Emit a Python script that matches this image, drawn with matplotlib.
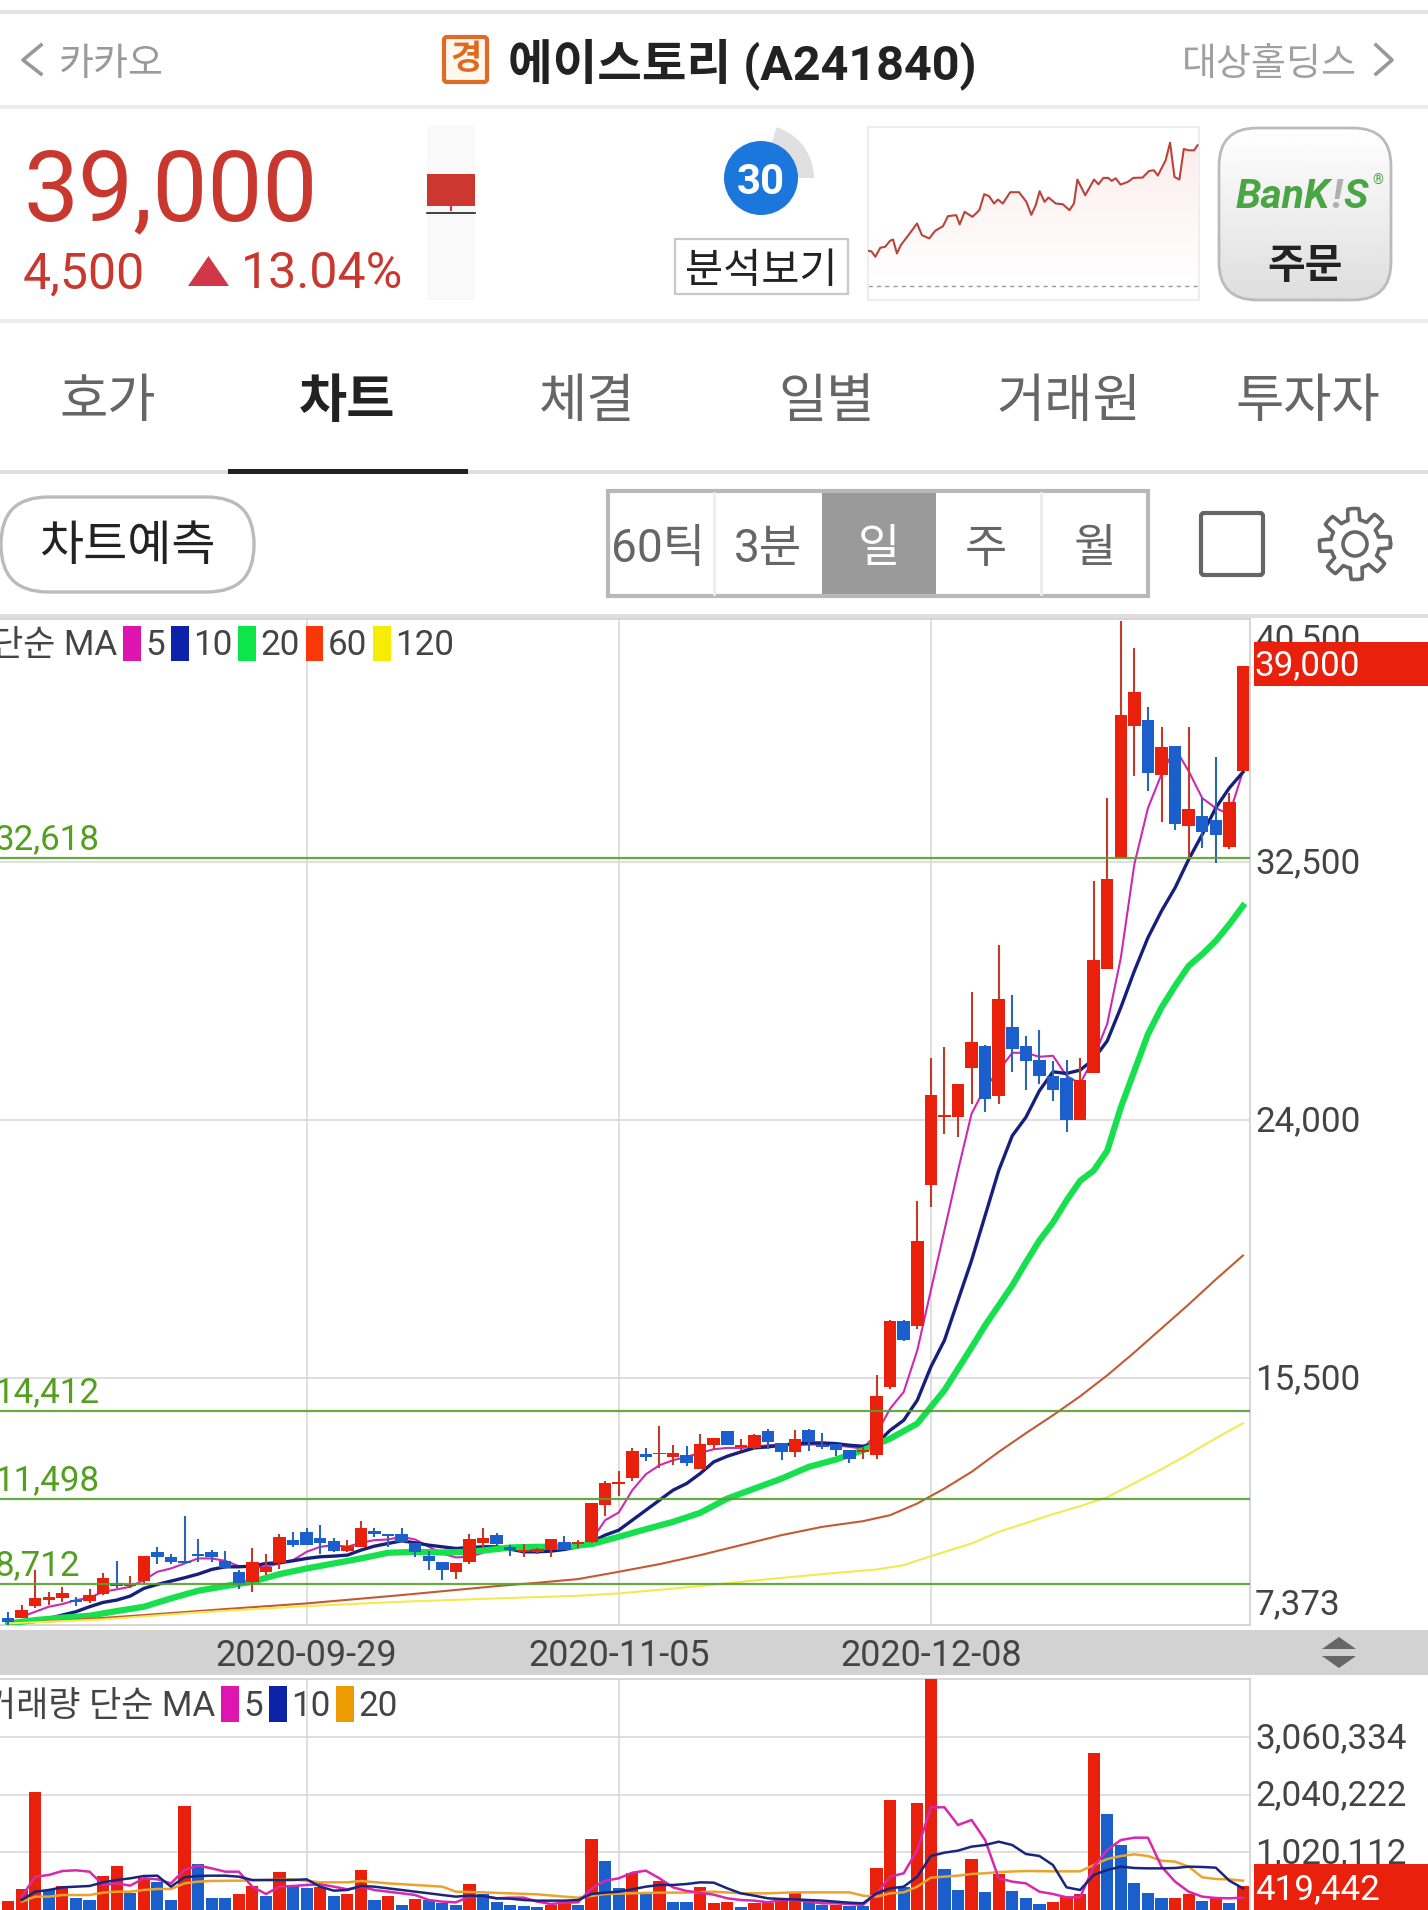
import numpy as np
import matplotlib
matplotlib.use("Agg")
import matplotlib.pyplot as plt
from matplotlib.patches import Rectangle, FancyBboxPatch, Wedge, Circle, Polygon

plt.rcParams['font.family'] = ['Roboto', 'Noto Sans CJK KR', 'DejaVu Sans']

# ---------------- data ----------------
candle_colors = ("brrrr brrbr rbbbb bbbrr rbbbb rrbbb bbbrr rbbrr rbrrr rrbrr "
                 "brrbr rbbrb bbbrr rbrrr rrbrb bbbbr rrrrb rbrbb rr").replace(" ", "")
highs = [7794,8013,9165,8452,8594,8287,8529,9055,9472,8967,9636,9933,9691,10942,10196,9823,9790,9165,9878,9691,10349,10426,10536,10646,10207,10152,10788,10536,10339,10536,10042,9801,9439,9384,10349,10536,10393,9987,10009,9878,10185,10295,10152,11381,12094,12434,13191,13191,13904,13301,13246,13641,13531,13739,13498,13641,13827,13366,13794,13827,13684,13333,13114,13224,15582,17400,17400,21340,26021,26383,25176,28215,26460,29762,28116,26767,26965,25944,25966,26021,31865,34608,40444,39544,37603,36944,36308,36944,34608,35957,34772,38963]
body_tops = [7574,7848,8232,8265,8397,8177,8342,8890,8726,8693,9636,9768,9604,9461,9691,9757,9472,9110,9439,9274,10240,10152,10426,10207,10130,9966,10536,10459,10339,10371,10042,9626,9439,9384,10185,10229,10317,9933,9823,9856,10185,10075,10075,11381,12039,12072,13081,12982,13037,13037,12949,13333,13531,13739,13290,13630,13739,13366,13476,13772,13279,13333,13114,13114,14891,17359,17359,20024,24825,24167,25176,26570,26416,27974,27074,26416,25966,25451,25363,25319,29268,31920,37350,38096,37186,36286,36308,34246,34004,33862,34465,38963]
body_bots = [7464,7596,7980,8177,8254,8123,8144,8364,8638,8638,8803,9604,9439,9406,9626,9604,9219,8671,8781,9110,9384,9987,9987,10042,9801,9801,9933,10339,10284,10075,9768,9472,9165,9088,9439,10042,10009,9823,9746,9768,9823,9823,10009,10075,11304,12017,12203,12895,12982,12895,12697,12511,13301,13301,13213,13191,13388,13059,13059,13388,13224,13114,12840,13059,12949,15198,16734,17207,21866,24101,24079,25692,24683,24792,26328,25944,25451,24990,23992,23992,25538,28983,32633,36966,35430,35376,33730,33675,33478,33379,32984,35485]
lows = [7355,7574,7903,8013,8123,7980,8068,8342,8561,8561,8671,9362,9362,9384,9417,9439,9197,8529,8452,9000,9197,9911,9987,9691,9768,9768,9933,10240,9933,10075,9604,9165,8836,8868,9362,9933,9987,9637,9604,9691,9604,9823,9878,10042,10953,11600,12105,12752,12543,12642,12598,12511,13147,13301,13114,13169,13169,12785,12895,13081,13147,12927,12697,12840,12840,15144,16700,17100,21140,23531,23421,24518,24244,24518,25582,24979,25176,24628,23586,23992,25538,28983,32633,35321,34827,33818,33533,32578,32962,32468,32929,35485]

ma5 = [7629,7793,7958,8046,8177,8254,8452,8529,8616,8836,9110,9220,9384,9549,9549,9472,9296,9253,9274,9384,9494,9768,9933,9987,9933,10064,10152,10174,10262,10174,9933,9713,9582,9604,9735,9878,9878,9768,9768,9823,9856,9955,10152,10810,11063,11798,12324,12620,12785,12895,13026,13147,13191,13191,13224,13279,13301,13279,13301,13301,13279,13224,13169,13663,14485,15034,16405,18379,20353,22327,24202,25057,25617,26209,26209,26077,26110,25452,25189,26044,27163,29335,32427,34270,35387,36243,35487,34598,34270,34060,35485]
ma10 = [7574,7684,7794,7958,8101,8177,8309,8561,8693,8803,8912,9033,9187,9274,9274,9296,9384,9406,9472,9549,9604,9626,9658,9823,9955,10042,10130,10064,9987,9933,9878,9911,9933,9933,9856,9768,9768,9790,9845,9933,10097,10317,10481,10810,11139,11469,11798,12017,12346,12730,12916,13059,13191,13224,13279,13333,13355,13355,13333,13279,13246,13333,13772,14101,14760,15857,16734,18050,19366,20846,22327,23476,24080,24957,25582,25527,25637,25999,26602,27700,28906,30003,30881,31646,32578,33401,34279,34937,35453]
ma20_days = [0,2,4,6,8,10,12,14,16,18,20,22,24,26,28,30,32,34,36,37,39,41,43,45,47,49,51,53,55,57,59,61,63,65,67,69,71,72,73,74,75,76,77,78,79,80,81,82,83,84,85,86,87,88,89,90,91]
ma20 = [7409,7519,7596,7662,7815,7958,8233,8485,8638,8781,9033,9220,9384,9549,9735,9768,9746,9768,9856,9911,9933,9933,10021,10262,10514,10755,11052,11523,11852,12181,12566,12807,13114,13498,13992,15089,16500,17227,17885,18543,19300,20024,20616,21340,21990,22327,22982,24408,25615,26822,27700,28413,29071,29455,29894,30442,31045]
ma60_days = [0,4,10,16,22,29,36,39,42,45,48,51,54,57,60,63,65,67,69,71,73,75,77,79,81,83,85,87,89,91]
ma60 = [7409,7497,7684,7881,8068,8342,8638,8748,8869,9110,9362,9658,9987,10317,10591,10777,10975,11359,11852,12401,13059,13674,14266,14891,15582,16339,17128,17918,18741,19530]
ma120_days = [0,7,14,22,29,36,42,45,51,54,60,64,66,68,71,73,75,77,79,81,83,85,87,89,91]
ma120 = [7409,7541,7772,7980,8123,8233,8320,8397,8638,8781,9033,9187,9329,9625,10042,10426,10713,11009,11272,11568,12029,12490,12983,13510,14003]

level_prices = [32618, 14412, 11498, 8712]
level_labels = ['32,618', '14,412', '11,498', '8,712']
price_ticks = [40500, 32500, 24000, 15500, 7373]
price_tick_labels = ['40,500', '32,500', '24,000', '15,500', '7,373']
date_ticks = [22, 45, 68]
date_labels = ['2020-09-29', '2020-11-05', '2020-12-08']

volume_colors = ("rrrbr bbrrb rbbrb bbrrb rbbrb rrbrb rbbbr bbbbb rrbrb brbrb "
                 "brrrb rrrrb brbbr rbrrb brbrb bbrrr rbbbb brrbr br").replace(" ", "")
volume = [159700,372600,2087600,354800,431700,218800,177400,609100,780600,307500,561800,502700,177400,1851100,810200,207000,207000,283900,431700,248400,668300,443600,384400,414000,248400,283900,709700,177400,248400,88700,189200,177400,118300,88700,461300,283900,136000,82800,71000,53200,88700,118300,88700,1253800,869400,396200,650500,283900,520400,136000,136000,402200,118300,136000,53200,130100,130100,165600,295700,136000,82800,88700,76900,71000,751100,1951600,414000,1892500,4092500,727400,354800,904800,313400,638700,343000,207000,112400,147900,236600,283900,2779600,1703200,1153200,473100,295700,207000,207000,278000,159700,218800,130100,419442]
vol_ma5 = [237,591,621,692,704,680,444,473,432,562,544,473,710,787,739,680,680,414,284,414,426,444,455,414,367,414,355,325,296,266,177,148,136,237,248,207,219,219,148,106,130,136,384,520,562,662,698,562,402,337,308,272,207,177,166,136,177,177,148,118,118,106,89,296,591,651,1065,1822,1822,1508,1597,1242,562,503,473,325,284,225,225,769,1065,1242,1283,1283,769,503,325,237,213,207,219]
vol_ma10 = [177,325,355,402,414,426,491,532,562,603,609,414,580,603,609,609,591,532,532,532,532,544,414,343,355,426,414,384,355,325,296,266,237,254,248,207,201,177,166,166,166,177,284,308,325,367,414,444,444,461,491,485,384,296,254,207,195,189,177,166,148,130,118,296,384,414,591,958,1017,1053,1124,1153,1212,1153,994,958,798,402,355,621,710,769,745,739,739,745,769,763,751,520,384]
vol_ma20_days = [1,2,3,4,5,6,7,8,9,10,11,12,13,14,15,17,19,21,23,25,26,28,30,32,33,35,37,39,41,42,43,44,46,48,50,52,54,56,58,60,62,63,64,65,66,67,68,69,70,71,72,73,75,77,79,80,81,82,83,84,85,86,87,88,89,90,91]
vol_ma20 = [148,237,237,266,266,266,308,325,325,355,373,373,473,503,515,520,532,544,491,491,515,473,444,414,325,313,296,278,237,219,248,284,296,308,308,325,296,296,313,313,313,254,237,296,313,414,574,591,609,639,651,674,692,686,686,798,905,958,988,958,875,858,769,580,550,544,520]
vol_ticks = [1020112, 2040222, 3060334]
vol_tick_labels = ['1,020,112', '2,040,222', '3,060,334']

spark_pos = [425,432,440,450,460,470,476,484,492,510,525,535,550,562,578,588,605,612,622,638,652,662,672,682,690,700,715,733,748,758,767,775,785,793,808,822,836,845,852,868,886,895,905,915,922,930,940,955,966,985,998,1008,1016,1032,1041,1050,1060,1069,1078,1090,1097]
spark_val = [107,105,89,116,119,137,141,99,124,159,189,154,144,167,181,211,214,186,224,209,229,277,271,249,261,249,283,283,254,215,244,286,254,267,249,247,229,249,321,274,321,307,326,326,317,325,306,314,326,327,347,349,333,379,432,329,321,413,409,409,424]

tab_labels = ['호가', '차트', '체결', '일별', '거래원', '투자자']
tab_centers = [108, 347, 587, 827, 1069, 1308]
period_labels = ['60틱', '3분', '일', '주', '월']
period_centers = [658, 768, 879, 986, 1095]

# ---------------- colours ----------------
RED, BLUE = '#e8200c', '#1a5fcc'
RED_W, BLUE_W = '#c33a28', '#2a66b4'
GRID = '#d6d6d6'
TXT = '#444444'
LEVEL = '#5aa02c'
PRICE_RED = '#c9382f'

W, H = 1428, 1910
PX = 0.72  # points per pixel at dpi 100
fig = plt.figure(figsize=(W / 100, H / 100), dpi=100, facecolor='white')


def box(x0, y0, x1, y1):
    return [x0 / W, 1 - y1 / H, (x1 - x0) / W, (y1 - y0) / H]


# ---------------- background chrome ----------------
bg = fig.add_axes([0, 0, 1, 1], zorder=0)
bg.set_xlim(0, W)
bg.set_ylim(H, 0)
bg.axis('off')


def hline(a, y, x0=0, x1=W, h=3, c='#e2e2e2'):
    a.add_patch(Rectangle((x0, y - h / 2), x1 - x0, h, fc=c, ec='none'))


hline(bg, 12, h=4)
hline(bg, 107, h=4, c='#ececec')
hline(bg, 321, h=4, c='#ececec')
hline(bg, 472, h=4, c='#dedede')
hline(bg, 471, 228, 468, h=5, c='#222222')
hline(bg, 616, h=4, c='#dedede')
bg.add_patch(Rectangle((0, 1630), W, 45, fc='#d2d2d2', ec='none'))

# header
bg.plot([41, 23, 41], [45, 60, 74], color='#999999', lw=2.6)
bg.text(59, 64, '카카오', fontsize=38 * PX, color='#999999', va='center', ha='left')
bg.add_patch(FancyBboxPatch((444, 37), 43, 45, boxstyle='round,pad=0,rounding_size=3',
                            fc='#fff8ee', ec='#de6c26', lw=3))
bg.text(465.5, 60, '경', fontsize=34 * PX, color='#e0691f', weight='bold', va='center', ha='center')
bg.text(508, 64, '에이스토리 (A241840)', fontsize=48.5 * PX, color='#222222', weight='bold',
        va='center', ha='left')
bg.text(1357, 64, '대상홀딩스', fontsize=38 * PX, color='#a0a0a0', va='center', ha='right')
bg.plot([1376, 1392, 1376], [45, 60, 74], color='#999999', lw=2.6)

# quote block
bg.text(23, 220, '39,000', fontsize=98 * PX, color=PRICE_RED, ha='left', va='baseline')
bg.text(23, 288, '4,500', fontsize=50 * PX, color=PRICE_RED, ha='left', va='baseline')
bg.add_patch(Polygon([(188, 286), (229, 286), (208.5, 256)], fc='#d0384a', ec='none'))
bg.text(241, 288, '13.04%', fontsize=50 * PX, color=PRICE_RED, ha='left', va='baseline')
bg.add_patch(Rectangle((427, 126), 48, 174, fc='#f9f9f9', ec='none'))
bg.add_patch(Rectangle((427, 174), 48, 32, fc='#cc3730', ec='none'))
bg.plot([451, 451], [206, 210], color='#cc3730', lw=1.5)
bg.plot([427, 475], [213, 213], color='#222222', lw=1.2)

# score dial
bg.add_patch(Wedge((761, 178), 53, -73, 0, width=20, fc='#e0e0e0', ec='none'))
bg.add_patch(Circle((761, 178), 37, fc='#1b77dc', ec='none'))
bg.text(761, 183, '30', fontsize=42 * PX, color='white', weight='bold', ha='center', va='center')
bg.add_patch(Rectangle((675, 239), 173, 55, fc='white', ec='#c8c8c8', lw=1.6))
bg.text(761.5, 271, '분석보기', fontsize=41.5 * PX, color='#222222', ha='center', va='center')

# order button
btn = FancyBboxPatch((1219, 128), 172, 172, boxstyle='round,pad=0,rounding_size=38',
                     fc='none', ec='#bbbbbb', lw=2, zorder=3)
bg.add_patch(btn)
grad_btn = np.linspace(1.0, 0.87, 256).reshape(-1, 1)
im = bg.imshow(grad_btn, extent=(1219, 1391, 300, 128), cmap='gray', vmin=0, vmax=1,
               aspect='auto', zorder=2)
im.set_clip_path(btn)
bg.set_xlim(0, W)
bg.set_ylim(H, 0)
bg.text(1330, 197, 'BanK', fontsize=41 * PX, color='#4aa544', weight='bold', style='italic',
        ha='right', va='center', zorder=4)
bg.text(1331, 197, '!', fontsize=41 * PX, color='#b0b0b0', weight='bold', style='italic',
        ha='left', va='center', zorder=4)
bg.text(1343, 197, 'S', fontsize=41 * PX, color='#4aa544', weight='bold', style='italic',
        ha='left', va='center', zorder=4)
bg.text(1378, 181, '®', fontsize=14 * PX, color='#4aa544', ha='center', va='center', zorder=4)
bg.text(1305, 267, '주문', fontsize=41 * PX, color='#222222', weight='bold', ha='center',
        va='center', zorder=4)

# tabs
for i, (lab, cx) in enumerate(zip(tab_labels, tab_centers)):
    active = i == 1
    bg.text(cx, 402, lab, fontsize=52.5 * PX, color='#222222' if active else '#666666',
            weight='bold' if active else 'normal', ha='center', va='center')

# toolbar
bg.add_patch(FancyBboxPatch((1, 497), 253, 95, boxstyle='round,pad=0,rounding_size=47',
                            fc='white', ec='#bbbbbb', lw=2.4))
bg.text(127, 547, '차트예측', fontsize=48 * PX, color='#222222', ha='center', va='center')
bg.add_patch(Rectangle((822, 489), 114, 108, fc='#9a9a9a', ec='none'))
bg.add_patch(Rectangle((608, 491), 540, 105, fc='none', ec='#b8b8b8', lw=3))
for xd in (714, 1041):
    bg.plot([xd, xd], [493, 594], color='#ececec', lw=2)
for i, (lab, cx) in enumerate(zip(period_labels, period_centers)):
    bg.text(cx, 549, lab, fontsize=46 * PX, color='white' if i == 2 else '#666666',
            ha='center', va='center')
bg.add_patch(FancyBboxPatch((1201, 513), 62, 62, boxstyle='round,pad=0,rounding_size=3',
                            fc='none', ec='#666666', lw=3))
theta = np.linspace(0, 2 * np.pi, 721)
gear_r = 30 + 5.5 * np.clip(3.0 * np.cos(8 * theta + np.pi / 8), -1, 1)
bg.plot(1355 + gear_r * np.cos(theta), 544 + gear_r * np.sin(theta), color='#666666', lw=2.6)
bg.add_patch(Circle((1355, 544), 12, fc='none', ec='#666666', lw=2.6))

# scroll arrows in the date strip
bg.add_patch(Polygon([(1322, 1649), (1356, 1649), (1339, 1637)], fc='#666666', ec='none'))
bg.add_patch(Polygon([(1322, 1656), (1356, 1656), (1339, 1668)], fc='#666666', ec='none'))

# ---------------- sparkline ----------------
sp = fig.add_axes(box(868, 127, 1199, 300), zorder=1)
sp.set_xlim(425, 1100)
sp.set_ylim(-41, 479)
poly_x = spark_pos + [spark_pos[-1], spark_pos[0]]
poly_y = spark_val + [0, 0]
clip = Polygon(np.column_stack([poly_x, poly_y]), closed=True, transform=sp.transData, fc='none', ec='none')
sp.add_patch(clip)
grad = np.ones((256, 2, 3))
mix = np.linspace(0.15, 0.0, 256).reshape(-1, 1, 1) ** 1.1
grad = (1 - mix) * grad + mix * np.array([0.88, 0.35, 0.3]).reshape(1, 1, 3)
g = sp.imshow(grad, extent=(425, 1100, 0, 479), aspect='auto', origin='upper', zorder=1)
g.set_clip_path(clip)
sp.set_xlim(425, 1100)
sp.set_ylim(-41, 479)
sp.plot(spark_pos, spark_val, color='#b8443c', lw=1.5, zorder=3)
sp.axhline(0, color='#999999', lw=1, ls=(0, (3, 3)), zorder=2)
sp.set_xticks([])
sp.set_yticks([])
for s in sp.spines.values():
    s.set_color('#eeeeee')
    s.set_linewidth(1.5)

# ---------------- price pane ----------------
ax = fig.add_axes(box(0, 619, 1250, 1624.5), zorder=2)
days = np.arange(len(highs))
XL = (-0.597, 91.52)
ax.set_xlim(*XL)
ax.set_ylim(7373, 40500)
ax.set_axisbelow(True)
ax.grid(True, color=GRID, lw=1.1)
ax.spines['left'].set_visible(False)
for s in ('top', 'right', 'bottom'):
    ax.spines[s].set_color('#d0d0d0')
    ax.spines[s].set_linewidth(1.2)
ax.set_yticks(price_ticks[1:-1])
ax.set_yticklabels([])
ax.tick_params(axis='y', length=0)
ax.set_xticks(date_ticks)
ax.set_xticklabels(date_labels, fontsize=36 * PX, color=TXT)
ax.tick_params(axis='x', length=0, pad=10)

ax.plot(np.arange(92 - len(ma5), 92), ma5, color='#cc2ab0', lw=1.5, zorder=3)
ax.plot(np.arange(92 - len(ma10), 92), ma10, color='#16207c', lw=2.4, zorder=3, solid_joinstyle='round')
ax.plot(ma20_days, ma20, color='#16e04e', lw=4.5, zorder=3, solid_joinstyle='round')
ax.plot(ma60_days, ma60, color='#c45a32', lw=1.5, zorder=3)
ax.plot(ma120_days, ma120, color='#f2ea50', lw=1.5, zorder=3)

cols = [RED if c == 'r' else BLUE for c in candle_colors]
wcols = [RED_W if c == 'r' else BLUE_W for c in candle_colors]
ax.vlines(days, lows, highs, colors=wcols, lw=1.5, zorder=4)
ax.bar(days, np.array(body_tops) - np.array(body_bots), bottom=body_bots, width=0.92,
       color=cols, linewidth=0, zorder=5)

for val, lab in zip(level_prices, level_labels):
    ax.axhline(val, color=LEVEL, lw=1.6, alpha=0.9, zorder=6)
    ax.annotate(lab, xy=(0, val), xycoords=('axes fraction', 'data'), xytext=(-6 * PX, 9 * PX),
                textcoords='offset points', fontsize=35 * PX, color='#52a01e', ha='left',
                va='baseline', zorder=7, annotation_clip=False)
for val, lab in zip(price_ticks, price_tick_labels):
    dy = {40500: -21, 7373: 20}.get(val, -2)
    ax.annotate(lab, xy=(1, val), xycoords=('axes fraction', 'data'), xytext=(5 * PX, dy * PX),
                textcoords='offset points', fontsize=35 * PX, color=TXT, ha='left',
                va='center', annotation_clip=False)

# ---------------- volume pane ----------------
vx = fig.add_axes(box(0, 1679, 1250, 1910), zorder=2)
vx.set_xlim(*XL)
vx.set_ylim(0, 4098000)
vx.set_axisbelow(True)
vx.grid(True, color=GRID, lw=1.1)
vx.spines['left'].set_visible(False)
vx.spines['bottom'].set_visible(False)
for s in ('top', 'right'):
    vx.spines[s].set_color('#d0d0d0')
    vx.spines[s].set_linewidth(1.2)
vx.set_yticks(vol_ticks)
vx.set_yticklabels([])
vx.set_xticks(date_ticks)
vx.set_xticklabels([])
vx.tick_params(length=0)
vx.bar(days, volume, width=0.9, color=[RED if c == 'r' else BLUE for c in volume_colors],
       linewidth=0, zorder=3)
k = 1000.0
vx.plot(vol_ma20_days, np.array(vol_ma20) * k, color='#e8a42c', lw=1.8, zorder=4)
vx.plot(np.arange(92 - len(vol_ma5), 92), np.array(vol_ma5) * k, color='#d828ac', lw=1.8, zorder=4)
vx.plot(np.arange(92 - len(vol_ma10), 92), np.array(vol_ma10) * k, color='#182680', lw=1.8, zorder=4)
for val, lab in zip(vol_ticks, vol_tick_labels):
    vx.annotate(lab, xy=(1, val), xycoords=('axes fraction', 'data'), xytext=(5 * PX, -1 * PX),
                textcoords='offset points', fontsize=35 * PX, color=TXT, ha='left',
                va='center', annotation_clip=False)

# ---------------- overlay: legends and badges ----------------
top = fig.add_axes([0, 0, 1, 1], zorder=5)
top.set_xlim(0, W)
top.set_ylim(H, 0)
top.axis('off')
top.patch.set_alpha(0)

legend_main = [(123, '#dd14ae', '5'), (171, '#0c22a8', '10'), (238, '#0ce64a', '20'),
               (305.5, '#f83808', '60'), (373, '#f6ec05', '120')]
legend_vol = [(221, '#e014b0', '5'), (269, '#0c22a8', '10'), (336, '#ec9c00', '20')]
top.text(117, 645, '단순 MA', fontsize=35 * PX, color=TXT, ha='right', va='center')
for x0, c, lab in legend_main:
    top.add_patch(Rectangle((x0, 626), 17.5, 35, fc=c, ec='none'))
    top.text(x0 + 22.5, 645, lab, fontsize=35 * PX, color=TXT, ha='left', va='center')
top.text(215, 1706, '거래량 단순 MA', fontsize=35 * PX, color=TXT, ha='right', va='center')
for x0, c, lab in legend_vol:
    top.add_patch(Rectangle((x0, 1686), 17.5, 36, fc=c, ec='none'))
    top.text(x0 + 22.5, 1706, lab, fontsize=35 * PX, color=TXT, ha='left', va='center')

top.add_patch(Rectangle((1254, 642), W - 1254, 44, fc=RED, ec='none'))
top.text(1254, 666, '39,000', fontsize=35 * PX, color='white', ha='left', va='center')
top.add_patch(Rectangle((1254, 1864), W - 1254, 46, fc=RED, ec='none'))
top.text(1255, 1890, '419,442', fontsize=35 * PX, color='white', ha='left', va='center')

fig.savefig('out.png', dpi=100)
